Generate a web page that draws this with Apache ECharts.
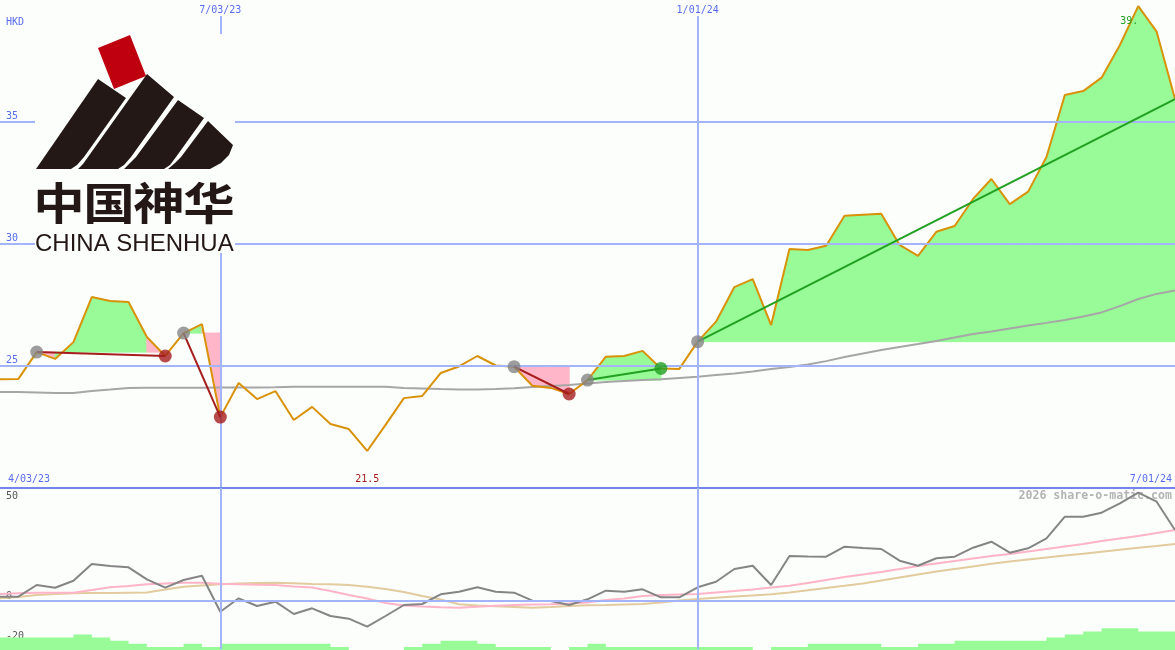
<!DOCTYPE html>
<html>
<head>
<meta charset="utf-8">
<script src="https://cdn.jsdelivr.net/npm/echarts@6/dist/echarts.min.js"></script>
<style>
html,body{margin:0;padding:0;background:#fcfefc;}
#c{width:1175px;height:650px;}
</style>
</head>
<body>
<div id="c"></div>
<script>
// ---------------- DATA ----------------
// weekly closes, HKD (index 0 .. 64)
const price = [24.42,24.44,25.54,25.26,25.95,27.80,27.64,27.60,26.16,25.38,
  26.32,26.69,22.87,24.27,23.61,23.94,22.75,23.29,22.59,22.38,
  21.48,22.55,23.65,23.74,24.68,24.95,25.38,24.99,24.94,24.16,
  24.07,23.82,24.39,25.35,25.38,25.59,24.87,24.85,25.97,26.79,
  28.21,28.54,26.65,29.77,29.73,29.91,31.14,31.18,31.22,29.94,
  29.49,30.48,30.72,31.83,32.65,31.62,32.13,33.55,36.10,36.26,
  36.81,38.15,39.75,38.70,35.93];
// long moving average (grey)
const longMa = [23.90,23.90,23.88,23.86,23.86,23.94,24.00,24.07,24.08,24.08,
  24.08,24.08,24.09,24.09,24.09,24.10,24.12,24.12,24.12,24.12,
  24.12,24.12,24.07,24.05,24.02,24.00,24.00,24.02,24.06,24.11,
  24.15,24.19,24.25,24.31,24.35,24.39,24.43,24.48,24.53,24.60,
  24.66,24.74,24.85,24.93,25.03,25.17,25.34,25.48,25.63,25.75,
  25.87,26.00,26.14,26.28,26.39,26.51,26.63,26.74,26.86,27.00,
  27.17,27.43,27.72,27.93,28.07];
// lower panel: oscillator (dark grey) and its two averages
const osc = [2.15,2.15,8.0,6.65,10.15,18.5,17.5,16.85,10.85,6.65,
  10.5,12.65,-5.35,1.35,-2.5,-0.35,-6.5,-3.65,-7.5,-8.85,
  -12.85,-7.5,-2.0,-1.5,3.35,4.65,6.85,4.65,4.15,0.15,
  0,-2.0,0.85,5.15,4.65,5.85,1.85,1.85,6.85,9.65,
  16.0,17.65,8.0,22.5,22.25,22.15,27.15,26.5,26.0,20.15,
  17.65,21.35,22.15,26.65,29.65,24.15,26.35,31.35,42.15,42.15,
  44.15,48.85,54.15,49.65,35.5];
const oscFast = [3.5,3.85,4.15,4.15,4.15,5.5,6.85,7.5,8.35,8.75,
  9.15,9.15,8.65,8.35,8.15,8.0,7.25,6.75,5.0,3.0,
  1.25,-1.0,-2.25,-2.75,-3.15,-3.35,-2.85,-2.35,-2.0,-1.75,
  -1.65,-1.25,-0.75,0.5,1.25,2.5,3.0,3.25,3.5,4.25,
  5.0,5.75,6.75,7.65,9.0,10.5,12.0,13.25,14.5,16.0,
  17.5,18.75,20.0,21.25,22.5,23.5,24.75,26.0,27.25,28.5,
  30.0,31.25,32.5,34.0,35.5];
const oscSlow = [1.35,2.0,3.0,3.5,3.85,4.0,4.0,4.15,4.3,5.7,
  7.15,7.75,8.35,8.75,9.0,9.15,8.85,8.5,8.35,8.0,
  7.15,6.0,4.5,2.5,0.75,-1.65,-2.25,-2.65,-3.0,-3.35,
  -3.0,-2.5,-2.15,-2.0,-1.75,-1.5,-0.75,0.25,1.0,1.6,
  2.2,2.8,3.35,4.3,5.4,6.5,7.6,8.8,10.3,11.8,
  13.3,14.7,16.0,17.3,18.6,19.8,20.8,21.8,22.7,23.6,
  24.6,25.6,26.6,27.5,28.5];
// bottom green step blocks, one per week interval
const volSteps = [4,4,4,4,5,4,3,2,1,1,
  2,1,2,2,2,2,2,2,1,0,
  0,0,1,2,3,3,2,1,1,1,
  0,1,2,1,1,1,1,1,1,1,
  1,0,1,1,2,2,2,2,1,1,
  2,2,3,3,3,3,3,4,5,6,
  7,7,6,6];
// trade signals: start index, end index, direction
const sigStart = [2, 10, 28, 32, 38];
const sigEnd   = [9, 12, 31, 36, 64];
const sigDir   = ['down','down','down','up','up'];
const sigOpen  = [false,false,false,false,true];
// labels
const topDateIdx = [12, 38];
const topDates = ['7/03/23', '1/01/24'];
const rangeDates = ['4/03/23', '7/01/24'];
const mainTicks = [25, 30, 35];
const lowerTicks = [50, 0, -20];
const currency = 'HKD';
const watermark = '2026 share-o-matic.com';

// ---------------- STYLE ----------------
const BG = '#fcfefc';
const BLUE = '#5a6cf0';
const GRIDBLUE = '#a4b4fa';
const DIVIDER = '#7484ee';
const ORANGE = '#d99208';
const MAGREY = '#a6a6a6';
const DKRED = '#a51d1d';
const GREEN = '#22a022';
const PALEGREEN = '#98fb98';
const PINK = '#ffb6c8';
const INK = '#231815';
const MONO = '"DejaVu Sans Mono", monospace';

const pts = arr => arr.map((v, i) => [i, v]);
const minIdx = price.indexOf(Math.min(...price));
const maxIdx = price.indexOf(Math.max(...price));
const minLabel = price[minIdx].toFixed(1);
const maxLabel = String(price[maxIdx]).slice(0, 3);

// fill segments between price and the signal's start level
const fillData = [];
sigStart.forEach((a, s) => {
  const b = sigEnd[s], base = price[a];
  for (let k = a; k < b; k++) {
    fillData.push([k, price[k], price[k + 1], base, price[k + 1] >= base ? 1 : 0]);
  }
});

const trendSeries = sigStart.map((a, s) => ({
  type: 'line', xAxisIndex: 0, yAxisIndex: 0, z: 5, silent: true,
  symbol: 'none',
  data: [[a, price[a]], [sigEnd[s], price[sigEnd[s]]]],
  lineStyle: { color: sigDir[s] === 'down' ? DKRED : GREEN, width: 2 }
}));

const stepData = volSteps.map((v, i) => [i, v]);
stepData.push([volSteps.length, volSteps[volSteps.length - 1]]);

const chart = echarts.init(document.getElementById('c'));
const option = {
  backgroundColor: BG,
  animation: false,
  grid: [
    { left: 0, right: 0, top: 0, height: 487 },
    { left: 0, right: 0, top: 488, height: 161 },
    { left: 0, right: 0, top: 619, height: 31 }
  ],
  xAxis: [
    { gridIndex: 0, type: 'value', min: 0, max: 64, show: false },
    { gridIndex: 1, type: 'value', min: 0, max: 64, position: 'top',
      axisLine: { show: true, onZero: false, lineStyle: { color: DIVIDER, width: 2 } },
      axisTick: { show: false }, axisLabel: { show: false }, splitLine: { show: false } },
    { gridIndex: 2, type: 'value', min: 0, max: 64, show: false }
  ],
  yAxis: [
    { gridIndex: 0, type: 'value', min: 20, max: 40, interval: 5,
      axisLine: { show: false }, axisTick: { show: false }, splitLine: { show: false },
      axisLabel: { inside: true, margin: 6, verticalAlign: 'bottom', color: BLUE,
        fontFamily: MONO, fontSize: 10,
        formatter: v => mainTicks.includes(v) ? String(v) : '' } },
    { gridIndex: 1, type: 'value', min: -24, max: 56.5, interval: 2,
      axisLine: { show: false }, axisTick: { show: false }, splitLine: { show: false },
      axisLabel: { inside: true, margin: 6, verticalAlign: 'bottom', color: '#555',
        fontFamily: MONO, fontSize: 10,
        formatter: v => lowerTicks.includes(v) ? String(v) : '' } },
    { gridIndex: 2, type: 'value', min: 0, max: 10, show: false }
  ],
  series: [
    // main panel grid lines
    { type: 'line', xAxisIndex: 0, yAxisIndex: 0, z: 1, silent: true, data: [],
      markLine: {
        silent: true, symbol: ['none', 'none'], animation: false,
        label: { show: false },
        lineStyle: { color: GRIDBLUE, width: 2, type: 'solid' },
        emphasis: { disabled: true },
        data: [
          ...mainTicks.map(v => ({ yAxis: v })),
          ...topDateIdx.map((ix, j) => [
            { coord: [ix, 39.34], label: { show: true, position: 'start', distance: 1,
              formatter: topDates[j], color: BLUE, fontFamily: MONO, fontSize: 10 } },
            { coord: [ix, 20] }
          ])
        ]
      } },
    // shaded areas
    { type: 'custom', xAxisIndex: 0, yAxisIndex: 0, z: 2, silent: true,
      data: fillData, encode: { x: 0, y: [1, 2, 3] },
      renderItem: (params, api) => {
        const k = api.value(0);
        const a = api.coord([k, api.value(1)]);
        const b = api.coord([k + 1, api.value(2)]);
        const c = api.coord([k + 1, api.value(3)]);
        const d = api.coord([k, api.value(3)]);
        const col = api.value(4) ? PALEGREEN : PINK;
        return { type: 'polygon', shape: { points: [a, b, c, d] },
          style: { fill: col, stroke: col, lineWidth: 1 } };
      } },
    // long MA
    { type: 'line', xAxisIndex: 0, yAxisIndex: 0, z: 3, silent: true,
      symbol: 'none', data: pts(longMa), lineStyle: { color: MAGREY, width: 2 } },
    // price
    { type: 'line', xAxisIndex: 0, yAxisIndex: 0, z: 4, silent: true,
      symbol: 'none', data: pts(price), lineStyle: { color: ORANGE, width: 2 },
      markPoint: {
        silent: true, symbol: 'circle', symbolSize: 0, animation: false,
        label: { show: true, position: 'inside', fontFamily: MONO, fontSize: 10 },
        data: [
          { coord: [minIdx, 20.33], label: { formatter: minLabel, color: DKRED } },
          { coord: [maxIdx, 39.14], label: { formatter: maxLabel, color: GREEN, align: 'right' } }
        ]
      } },
    ...trendSeries,
    // signal dots
    { type: 'scatter', xAxisIndex: 0, yAxisIndex: 0, z: 6, silent: true, symbolSize: 13,
      itemStyle: { color: '#848484' }, data: sigStart.map(a => [a, price[a]]) },
    { type: 'scatter', xAxisIndex: 0, yAxisIndex: 0, z: 6, silent: true, symbolSize: 13,
      itemStyle: { color: DKRED },
      data: sigEnd.filter((b, s) => sigDir[s] === 'down' && !sigOpen[s]).map(b => [b, price[b]]) },
    { type: 'scatter', xAxisIndex: 0, yAxisIndex: 0, z: 6, silent: true, symbolSize: 13,
      itemStyle: { color: GREEN },
      data: sigEnd.filter((b, s) => sigDir[s] === 'up' && !sigOpen[s]).map(b => [b, price[b]]) },
    // lower panel grid lines
    { type: 'line', xAxisIndex: 1, yAxisIndex: 1, z: 1, silent: true, data: [],
      markLine: {
        silent: true, symbol: ['none', 'none'], animation: false,
        label: { show: false },
        lineStyle: { color: GRIDBLUE, width: 2, type: 'solid' },
        data: [
          { yAxis: 0 },
          ...topDateIdx.map(ix => [{ coord: [ix, 56.5] }, { coord: [ix, -24] }])
        ]
      } },
    { type: 'line', xAxisIndex: 1, yAxisIndex: 1, z: 3, silent: true, symbol: 'none',
      data: pts(oscSlow), lineStyle: { color: '#e2cb9e', width: 2 } },
    { type: 'line', xAxisIndex: 1, yAxisIndex: 1, z: 3, silent: true, symbol: 'none',
      data: pts(oscFast), lineStyle: { color: '#ffb4c8', width: 2 } },
    { type: 'line', xAxisIndex: 1, yAxisIndex: 1, z: 4, silent: true, symbol: 'none',
      data: pts(osc), lineStyle: { color: '#858585', width: 2 } },
    // bottom blocks
    { type: 'line', xAxisIndex: 2, yAxisIndex: 2, z: 2, silent: true, symbol: 'none',
      step: 'end', data: stepData, lineStyle: { width: 0 },
      areaStyle: { color: PALEGREEN, opacity: 1 } }
  ],
  graphic: { elements: [
    { type: 'text', x: 6, y: 22, z: 10, silent: true,
      style: { text: currency, fill: BLUE, font: '10px ' + MONO, textAlign: 'left', textVerticalAlign: 'middle', align: 'left', verticalAlign: 'middle' } },
    { type: 'text', x: 8, y: 479, z: 10, silent: true,
      style: { text: rangeDates[0], fill: BLUE, font: '10px ' + MONO, textAlign: 'left', textVerticalAlign: 'middle', align: 'left', verticalAlign: 'middle' } },
    { type: 'text', x: 1172, y: 479, z: 10, silent: true,
      style: { text: rangeDates[1], fill: BLUE, font: '10px ' + MONO, textAlign: 'right', textVerticalAlign: 'middle', align: 'right', verticalAlign: 'middle' } },
    { type: 'text', x: 1172, y: 496, z: 0, silent: true,
      style: { text: watermark, fill: '#b4b4b4', font: 'bold 11.6px ' + MONO, textAlign: 'right', textVerticalAlign: 'middle', align: 'right', verticalAlign: 'middle' } },
    // logo
    { type: 'rect', z: 100, silent: true, shape: { x: 35, y: 34, width: 200, height: 219 }, style: { fill: BG } },
    { type: 'polygon', z: 101, silent: true, shape: { points: [[98,48],[130,35],[146,76],[114,89]] }, style: { fill: '#be000f' } },
    { type: 'polygon', z: 101, silent: true, shape: { points: [[36,169],[98,79],[126,98],[84,157],[77,165],[71,169]] }, style: { fill: INK } },
    { type: 'polygon', z: 101, silent: true, shape: { points: [[78,169],[83,164],[88,157],[147,74],[174,97],[131,157],[124,165],[118,169]] }, style: { fill: INK } },
    { type: 'polygon', z: 101, silent: true, shape: { points: [[124,169],[130,163],[136,157],[178,100],[204,118],[176,157],[170,165],[164,169]] }, style: { fill: INK } },
    { type: 'polygon', z: 101, silent: true, shape: { points: [[168,169],[175,163],[181,157],[208,121],[233,145],[229,155],[221,163],[210,169]] }, style: { fill: INK } },
    ...['中','国','神','华'].map((ch, j) => ({
      type: 'text', z: 101, silent: true, x: 59 + j * 50, y: 203, scaleX: 1.17, scaleY: 1,
      style: { text: ch, fill: INK, font: 'bold 44px "Noto Sans CJK SC"', textAlign: 'center', textVerticalAlign: 'middle', align: 'center', verticalAlign: 'middle' }
    })),
    { type: 'text', z: 101, silent: true, x: 35, y: 244,
      style: { text: 'CHINA SHENHUA', fill: INK, font: '24px "Liberation Sans"', textAlign: 'left', textVerticalAlign: 'middle', align: 'left', verticalAlign: 'middle' } }
  ] }
};
chart.setOption(option);
</script>
</body>
</html>
